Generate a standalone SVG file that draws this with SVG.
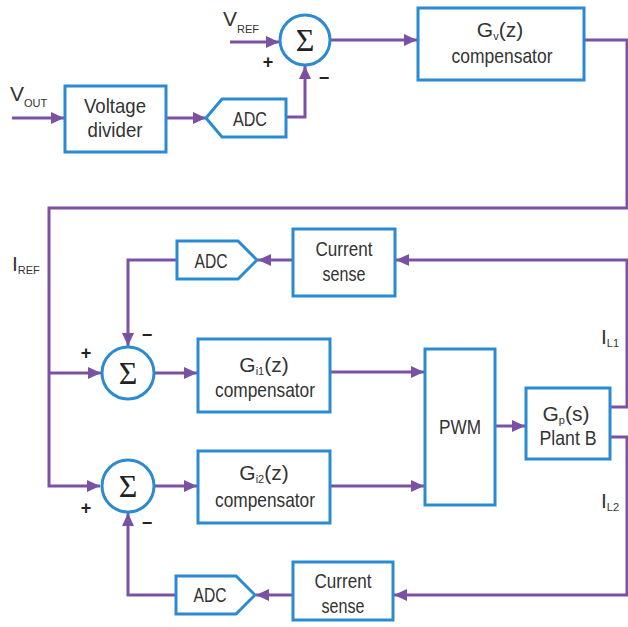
<svg xmlns="http://www.w3.org/2000/svg" width="628" height="627" viewBox="0 0 628 627">
<defs>
<style>
.box{fill:#fff;stroke:#2a8bd2;stroke-width:3}
.ln{fill:none;stroke:#7b52a3;stroke-width:3}
.t{font-family:"Liberation Sans",Arial,sans-serif;font-size:21px;fill:#333;text-anchor:middle}
.s{font-size:11px}
.sig{font-family:"Liberation Serif","Times New Roman",serif;font-size:32px;fill:#222;text-anchor:middle}
.pm{font-family:"Liberation Sans",Arial,sans-serif;font-size:18px;font-weight:bold;fill:#222;text-anchor:middle}
.lab{font-family:"Liberation Sans",Arial,sans-serif;font-size:21px;fill:#333}
</style>
<marker id="ah" markerWidth="13" markerHeight="12" refX="13" refY="6" orient="auto" markerUnits="userSpaceOnUse">
<path d="M0,0 L13,6 L0,12 z" fill="#7b52a3"/>
</marker>
</defs>
<rect width="628" height="627" fill="#fff"/>

<g id="connectors">
<path class="ln" d="M230,42 H279" marker-end="url(#ah)"/>
<path class="ln" d="M331,40 H417" marker-end="url(#ah)"/>
<path class="ln" d="M584,40 H627 V208 H49 V486 H100" marker-end="url(#ah)"/>
<path class="ln" d="M49,373 H101" marker-end="url(#ah)"/>
<path class="ln" d="M12,118 H64" marker-end="url(#ah)"/>
<path class="ln" d="M166,118 H206" marker-end="url(#ah)"/>
<path class="ln" d="M286,117 H305 V66" marker-end="url(#ah)"/>
<path class="ln" d="M610,407 H627 V260 H396" marker-end="url(#ah)"/>
<path class="ln" d="M293,260 H258" marker-end="url(#ah)"/>
<path class="ln" d="M177,260 H128 V346" marker-end="url(#ah)"/>
<path class="ln" d="M154,373 H197" marker-end="url(#ah)"/>
<path class="ln" d="M330,372 H424" marker-end="url(#ah)"/>
<path class="ln" d="M154,486 H197" marker-end="url(#ah)"/>
<path class="ln" d="M330,486 H424" marker-end="url(#ah)"/>
<path class="ln" d="M495,426 H525" marker-end="url(#ah)"/>
<path class="ln" d="M610,437 H627 V595 H394" marker-end="url(#ah)"/>
<path class="ln" d="M293,595 H256" marker-end="url(#ah)"/>
<path class="ln" d="M176,595 H128 V513" marker-end="url(#ah)"/>
</g>

<g id="labels">
<text class="lab" x="10" y="101">V<tspan class="s" dy="6">OUT</tspan></text>
<text class="lab" x="223" y="26">V<tspan class="s" dy="7">REF</tspan></text>
<text class="lab" x="12" y="271">I<tspan class="s" dy="3">REF</tspan></text>
<text class="lab" x="601" y="344">I<tspan class="s" dy="3">L1</tspan></text>
<text class="lab" x="601" y="508">I<tspan class="s" dy="3">L2</tspan></text>
<text class="pm" x="268" y="68">+</text>
<text class="pm" x="324" y="84">−</text>
<text class="pm" x="86" y="359">+</text>
<text class="pm" x="147" y="341">−</text>
<text class="pm" x="86" y="514">+</text>
<text class="pm" x="147" y="529">−</text>
</g>

<g id="sum-v">
<circle class="box" cx="305" cy="40" r="25"/>
<text class="sig" x="305" y="51">Σ</text>
</g>
<g id="gv-comp">
<rect class="box" x="418" y="8" width="166" height="72"/>
<text class="t" x="500" y="37">G<tspan class="s" dy="3">v</tspan><tspan dy="-3">(z)</tspan></text>
<text class="t" x="502" y="63" textLength="101" lengthAdjust="spacingAndGlyphs">compensator</text>
</g>
<g id="vdiv">
<rect class="box" x="65" y="86" width="101" height="66"/>
<text class="t" x="115" y="113" textLength="62" lengthAdjust="spacingAndGlyphs">Voltage</text>
<text class="t" x="115" y="137" textLength="55" lengthAdjust="spacingAndGlyphs">divider</text>
</g>
<g id="adc-v">
<path class="box" d="M206,118 L222,99 H286 V137 H222 Z"/>
<text class="t" x="250" y="126" textLength="34" lengthAdjust="spacingAndGlyphs">ADC</text>
</g>

<g id="cs1">
<rect class="box" x="293" y="229" width="102" height="67"/>
<text class="t" x="344" y="256" textLength="57" lengthAdjust="spacingAndGlyphs">Current</text>
<text class="t" x="344" y="281" textLength="43" lengthAdjust="spacingAndGlyphs">sense</text>
</g>
<g id="adc1">
<path class="box" d="M177,241 H238 L257,260 L238,279 H177 Z"/>
<text class="t" x="211" y="268" textLength="33" lengthAdjust="spacingAndGlyphs">ADC</text>
</g>
<g id="sum1">
<circle class="box" cx="128" cy="373" r="26"/>
<text class="sig" x="128" y="384">Σ</text>
</g>
<g id="gi1-comp">
<rect class="box" x="198" y="339" width="132" height="73"/>
<text class="t" x="264" y="372">G<tspan class="s" dy="3">i1</tspan><tspan dy="-3">(z)</tspan></text>
<text class="t" x="265" y="397" textLength="100" lengthAdjust="spacingAndGlyphs">compensator</text>
</g>
<g id="pwm">
<rect class="box" x="425" y="349" width="70" height="156"/>
<text class="t" x="460" y="434" textLength="42" lengthAdjust="spacingAndGlyphs">PWM</text>
</g>
<g id="plant">
<rect class="box" x="526" y="388" width="84" height="71"/>
<text class="t" x="566" y="421">G<tspan class="s" dy="3">p</tspan><tspan dy="-3">(s)</tspan></text>
<text class="t" x="568" y="445" textLength="57" lengthAdjust="spacingAndGlyphs">Plant B</text>
</g>
<g id="sum2">
<circle class="box" cx="128" cy="486" r="26"/>
<text class="sig" x="128" y="497">Σ</text>
</g>
<g id="gi2-comp">
<rect class="box" x="198" y="451" width="132" height="72"/>
<text class="t" x="264" y="480">G<tspan class="s" dy="3">i2</tspan><tspan dy="-3">(z)</tspan></text>
<text class="t" x="265" y="507" textLength="100" lengthAdjust="spacingAndGlyphs">compensator</text>
</g>
<g id="cs2">
<rect class="box" x="293" y="562" width="100" height="58"/>
<text class="t" x="343" y="588" textLength="57" lengthAdjust="spacingAndGlyphs">Current</text>
<text class="t" x="343" y="613" textLength="43" lengthAdjust="spacingAndGlyphs">sense</text>
</g>
<g id="adc2">
<path class="box" d="M176,576 H236 L255,595 L236,614 H176 Z"/>
<text class="t" x="210" y="602" textLength="33" lengthAdjust="spacingAndGlyphs">ADC</text>
</g>
</svg>
